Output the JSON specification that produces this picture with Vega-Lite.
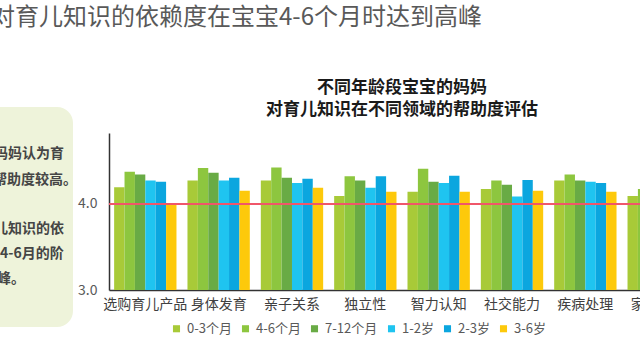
{
  "$schema": "https://vega.github.io/schema/vega-lite/v6.json",
  "autosize": {"type": "pad"},
  "padding": {"left": -9, "top": 6, "right": -54, "bottom": 0},
  "background": "white",
  "config": {
    "font": "Noto Sans CJK SC",
    "view": {"stroke": null},
    "concat": {"spacing": 4}
  },
  "title": {
    "text": "对育儿知识的依赖度在宝宝4-6个月时达到高峰",
    "anchor": "start",
    "frame": "group",
    "dx": -9,
    "fontSize": 24,
    "fontWeight": "normal",
    "color": "#595959",
    "offset": 49
  },
  "datasets": {
    "scores": [
      {"领域": "选购育儿产品", "年龄段": "0-3个月", "评分": 4.19},
      {"领域": "选购育儿产品", "年龄段": "4-6个月", "评分": 4.37},
      {"领域": "选购育儿产品", "年龄段": "7-12个月", "评分": 4.34},
      {"领域": "选购育儿产品", "年龄段": "1-2岁", "评分": 4.27},
      {"领域": "选购育儿产品", "年龄段": "2-3岁", "评分": 4.255},
      {"领域": "选购育儿产品", "年龄段": "3-6岁", "评分": 4.0},
      {"领域": "身体发育", "年龄段": "0-3个月", "评分": 4.27},
      {"领域": "身体发育", "年龄段": "4-6个月", "评分": 4.415},
      {"领域": "身体发育", "年龄段": "7-12个月", "评分": 4.36},
      {"领域": "身体发育", "年龄段": "1-2岁", "评分": 4.27},
      {"领域": "身体发育", "年龄段": "2-3岁", "评分": 4.3},
      {"领域": "身体发育", "年龄段": "3-6岁", "评分": 4.15},
      {"领域": "亲子关系", "年龄段": "0-3个月", "评分": 4.27},
      {"领域": "亲子关系", "年龄段": "4-6个月", "评分": 4.42},
      {"领域": "亲子关系", "年龄段": "7-12个月", "评分": 4.3},
      {"领域": "亲子关系", "年龄段": "1-2岁", "评分": 4.24},
      {"领域": "亲子关系", "年龄段": "2-3岁", "评分": 4.29},
      {"领域": "亲子关系", "年龄段": "3-6岁", "评分": 4.185},
      {"领域": "独立性", "年龄段": "0-3个月", "评分": 4.09},
      {"领域": "独立性", "年龄段": "4-6个月", "评分": 4.32},
      {"领域": "独立性", "年龄段": "7-12个月", "评分": 4.27},
      {"领域": "独立性", "年龄段": "1-2岁", "评分": 4.185},
      {"领域": "独立性", "年龄段": "2-3岁", "评分": 4.32},
      {"领域": "独立性", "年龄段": "3-6岁", "评分": 4.14},
      {"领域": "智力认知", "年龄段": "0-3个月", "评分": 4.14},
      {"领域": "智力认知", "年龄段": "4-6个月", "评分": 4.405},
      {"领域": "智力认知", "年龄段": "7-12个月", "评分": 4.255},
      {"领域": "智力认知", "年龄段": "1-2岁", "评分": 4.24},
      {"领域": "智力认知", "年龄段": "2-3岁", "评分": 4.325},
      {"领域": "智力认知", "年龄段": "3-6岁", "评分": 4.14},
      {"领域": "社交能力", "年龄段": "0-3个月", "评分": 4.17},
      {"领域": "社交能力", "年龄段": "4-6个月", "评分": 4.27},
      {"领域": "社交能力", "年龄段": "7-12个月", "评分": 4.22},
      {"领域": "社交能力", "年龄段": "1-2岁", "评分": 4.085},
      {"领域": "社交能力", "年龄段": "2-3岁", "评分": 4.275},
      {"领域": "社交能力", "年龄段": "3-6岁", "评分": 4.15},
      {"领域": "疾病处理", "年龄段": "0-3个月", "评分": 4.27},
      {"领域": "疾病处理", "年龄段": "4-6个月", "评分": 4.34},
      {"领域": "疾病处理", "年龄段": "7-12个月", "评分": 4.27},
      {"领域": "疾病处理", "年龄段": "1-2岁", "评分": 4.255},
      {"领域": "疾病处理", "年龄段": "2-3岁", "评分": 4.24},
      {"领域": "疾病处理", "年龄段": "3-6岁", "评分": 4.14},
      {"领域": "家庭教育", "年龄段": "0-3个月", "评分": 4.09},
      {"领域": "家庭教育", "年龄段": "4-6个月", "评分": 4.17},
      {"领域": "家庭教育", "年龄段": "7-12个月", "评分": 4.15},
      {"领域": "家庭教育", "年龄段": "1-2岁", "评分": 4.12},
      {"领域": "家庭教育", "年龄段": "2-3岁", "评分": 4.14},
      {"领域": "家庭教育", "年龄段": "3-6岁", "评分": 4.06}
    ],
    "panelBox": [{"x1": 0, "x2": 73, "y1": -1.06, "y2": 7.92}],
    "panelText": [
      {"line": "妈妈认为育", "x": -6, "row": 0.87},
      {"line": "帮助度较高。", "x": -7, "row": 1.9},
      {"line": "儿知识的依", "x": -6, "row": 3.9},
      {"line": "4-6月的阶", "x": 0, "row": 4.92},
      {"line": "峰。", "x": -3, "row": 5.94}
    ]
  },
  "hconcat": [
    {
      "width": 73,
      "height": 194,
      "layer": [
        {
          "data": {"name": "panelBox"},
          "mark": {"type": "rect", "color": "#eef3da", "cornerRadiusTopRight": 16, "cornerRadiusBottomRight": 16},
          "encoding": {
            "x": {"field": "x1", "type": "quantitative", "scale": {"domain": [0, 73], "nice": false, "zero": false}, "axis": null},
            "x2": {"field": "x2"},
            "y": {"field": "y1", "type": "quantitative", "scale": {"domain": [0, 7.92], "reverse": true, "nice": false, "zero": false}, "axis": null},
            "y2": {"field": "y2"}
          }
        },
        {
          "data": {"name": "panelText"},
          "mark": {"type": "text", "align": "left", "baseline": "middle", "fontSize": 14, "fontWeight": "bold", "color": "#454545", "clip": true},
          "encoding": {
            "x": {"field": "x", "type": "quantitative"},
            "y": {"field": "row", "type": "quantitative"},
            "text": {"field": "line"}
          }
        }
      ]
    },
    {
      "width": 586,
      "height": 157,
      "title": {
        "text": ["不同年龄段宝宝的妈妈", "对育儿知识在不同领域的帮助度评估"],
        "anchor": "middle",
        "fontSize": 17,
        "fontWeight": "bold",
        "color": "#1a1a1a",
        "lineHeight": 21.6,
        "offset": 14
      },
      "data": {"name": "scores"},
      "layer": [
        {
          "mark": {"type": "bar", "clip": true},
          "encoding": {
            "x": {
              "field": "领域", "type": "nominal",
              "sort": ["选购育儿产品", "身体发育", "亲子关系", "独立性", "智力认知", "社交能力", "疾病处理", "家庭教育"],
              "scale": {"paddingInner": 0.15, "paddingOuter": 0.07},
              "axis": {"title": null, "labelAngle": 0, "ticks": false, "labelPadding": 7, "labelFontSize": 14, "labelColor": "#404040", "domainColor": "#333333", "domainWidth": 1.5}
            },
            "xOffset": {
              "field": "年龄段", "type": "nominal",
              "sort": ["0-3个月", "4-6个月", "7-12个月", "1-2岁", "2-3岁", "3-6岁"]
            },
            "y": {
              "field": "评分", "type": "quantitative",
              "scale": {"domain": [3, 4.82], "zero": false, "nice": false},
              "axis": {"title": null, "values": [3, 4], "format": ".1f", "grid": false, "ticks": false, "labelPadding": 12, "labelFontSize": 14, "labelColor": "#595959", "domainColor": "#333333", "domainWidth": 1.5}
            },
            "color": {
              "field": "年龄段", "type": "nominal",
              "scale": {
                "domain": ["0-3个月", "4-6个月", "7-12个月", "1-2岁", "2-3岁", "3-6岁"],
                "range": ["#a8ca38", "#8dc63f", "#69ab45", "#1fc4f0", "#0ba6df", "#fdc90b"]
              },
              "legend": {"title": null, "orient": "none", "legendX": 170, "legendY": 189, "direction": "horizontal", "symbolType": "square", "symbolSize": 50, "labelFontSize": 13, "labelColor": "#595959", "labelOffset": 4, "columnPadding": 7}
            }
          }
        },
        {
          "mark": {"type": "rule", "color": "#f0566a", "strokeWidth": 1.5},
          "encoding": {"y": {"datum": 4}}
        }
      ]
    }
  ]
}
